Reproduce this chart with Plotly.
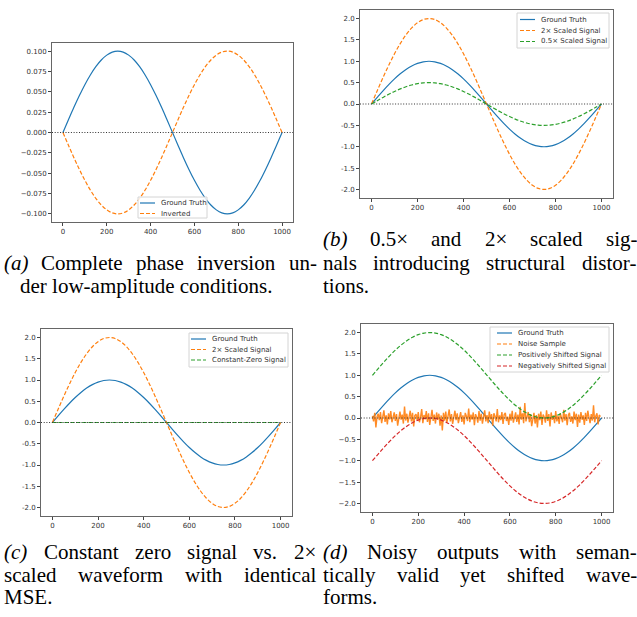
import re

import plotly.graph_objects as go

# ---- data ----
# x positions of the signal samples and the unit ground-truth waveform
signal_x = list(range(0, 1001, 25))
ground_truth = [
    0.000, 0.156, 0.309, 0.454, 0.588, 0.707, 0.809, 0.891, 0.951, 0.988,
    1.000, 0.988, 0.951, 0.891, 0.809, 0.707, 0.588, 0.454, 0.309, 0.156,
    0.000, -0.156, -0.309, -0.454, -0.588, -0.707, -0.809, -0.891, -0.951, -0.988,
    -1.000, -0.988, -0.951, -0.891, -0.809, -0.707, -0.588, -0.454, -0.309, -0.156,
    0.000,
]
amp_a = 0.1            # panel (a) low-amplitude ground truth
invert_a = -1.0        # panel (a) inverted copy
scales_b = [2.0, 0.5]  # panel (b)
scales_c = [2.0, 0.0]  # panel (c) 2x and constant zero
shifts_d = [1.0, -1.0]  # panel (d) positive / negative shift
zero_level = 0.0

noise_x = list(range(0, 1000, 5))
noise = [
    0.05, -0.08, 0.12, -0.22, 0.03, 0.10, -0.05, 0.14, -0.12, 0.02, 0.18, -0.09, 0.06, -0.15, 0.11, -0.03, 0.16, -0.10, 0.04, 0.13,
    -0.07, 0.09, -0.18, 0.05, 0.15, -0.04, 0.08, -0.13, 0.27, -0.06, 0.10, -0.11, 0.03, 0.17, -0.08, 0.12, -0.20, 0.06, 0.09, -0.05,
    0.14, -0.10, 0.02, 0.21, -0.12, 0.07, -0.03, 0.16, -0.09, 0.11, -0.16, 0.05, 0.19, -0.07, 0.08, -0.13, 0.13, -0.04, 0.10, -0.18,
    0.06, -0.29, 0.12, -0.06, 0.15, -0.11, 0.04, 0.20, -0.08, 0.09, -0.14, 0.07, 0.17, -0.05, 0.11, -0.12, 0.03, 0.14, -0.09, 0.06,
    -0.15, 0.12, 0.04, -0.07, 0.22, -0.10, 0.08, -0.04, 0.13, -0.17, 0.09, 0.02, -0.11, 0.16, -0.06, 0.10, -0.13, 0.05, 0.18, -0.08,
    0.07, -0.12, 0.15, -0.03, 0.09, -0.18, 0.11, 0.04, -0.08, 0.21, -0.10, 0.06, -0.05, 0.14, -0.14, 0.08, 0.12, -0.07, 0.03, -0.16,
    0.10, -0.06, 0.17, -0.11, 0.05, 0.13, -0.09, 0.08, -0.15, 0.26, -0.04, 0.11, -0.12, 0.35, -0.08, 0.06, 0.14, -0.10, 0.09, -0.19,
    0.04, 0.12, -0.13, 0.07, -0.22, 0.10, -0.05, 0.15, -0.16, 0.08, 0.02, -0.11, 0.18, -0.07, 0.09, -0.20, 0.13, -0.04, 0.06, -0.12,
    0.16, -0.08, 0.05, -0.14, 0.11, 0.03, -0.10, 0.19, -0.06, 0.09, -0.17, 0.07, 0.12, -0.09, 0.04, -0.13, 0.15, -0.05, 0.10, -0.21,
    0.08, -0.11, 0.14, -0.04, 0.06, -0.16, 0.12, -0.07, 0.17, 0.02, -0.12, 0.09, -0.06, 0.30, -0.10, 0.05, 0.11, -0.15, 0.07, 0.03,
]

x_ticks = [0, 200, 400, 600, 800, 1000]
y_ticks_a = [0.1, 0.075, 0.05, 0.025, 0.0, -0.025, -0.05, -0.075, -0.1]
y_labels_a = ["0.100", "0.075", "0.050", "0.025", "0.000", "\u22120.025", "\u22120.050", "\u22120.075", "\u22120.100"]
y_ticks_big = [2.0, 1.5, 1.0, 0.5, 0.0, -0.5, -1.0, -1.5, -2.0]
y_labels_hyphen = ["2.0", "1.5", "1.0", "0.5", "0.0", "-0.5", "-1.0", "-1.5", "-2.0"]
y_labels_minus = ["2.0", "1.5", "1.0", "0.5", "0.0", "\u22120.5", "\u22121.0", "\u22121.5", "\u22122.0"]

legend_a = ["Ground Truth", "Inverted"]
legend_b = ["Ground Truth", "2\u00d7 Scaled Signal", "0.5\u00d7 Scaled Signal"]
legend_c = ["Ground Truth", "2\u00d7 Scaled Signal", "Constant-Zero Signal"]
legend_d = ["Ground Truth", "Noise Sample", "Positively Shifted Signal", "Negatively Shifted Signal"]

caption_a = ["<i>(a)</i> Complete phase inversion un-", "der low-amplitude conditions."]
caption_b = ["<i>(b)</i> 0.5\u00d7 and 2\u00d7 scaled sig-", "nals introducing structural distor-", "tions."]
caption_c = ["<i>(c)</i> Constant zero signal vs. 2\u00d7", "scaled waveform with identical", "MSE."]
caption_d = ["<i>(d)</i> Noisy outputs with seman-", "tically valid yet shifted wave-", "forms."]

BLUE, ORANGE, GREEN, RED = "#1f77b4", "#ff7f0e", "#2ca02c", "#d62728"

W, H = 637, 617


def px(x):
    return x / W


def py(y):
    return 1 - y / H


fig = go.Figure()

# panel boxes in pixels: (left, right, top, bottom)
panels = {
    "a": dict(ax="", box=(52, 293, 43, 222), yr=[-0.11, 0.11], yt=y_ticks_a, yl=y_labels_a),
    "b": dict(ax="2", box=(360, 613, 10, 198), yr=[-2.2, 2.2], yt=y_ticks_big, yl=y_labels_hyphen),
    "c": dict(ax="3", box=(41, 292, 329, 516), yr=[-2.2, 2.2], yt=y_ticks_big, yl=y_labels_hyphen),
    "d": dict(ax="4", box=(361, 613, 324, 512), yr=[-2.2, 2.2], yt=y_ticks_big, yl=y_labels_minus),
}

tick_font = dict(family="DejaVu Sans", size=7, color="#333333")
for key, p in panels.items():
    l, r, t, b = p["box"]
    xa = dict(
        domain=[px(l), px(r)], range=[-50, 1050], anchor="y" + p["ax"],
        tickvals=x_ticks, ticks="outside", ticklen=3, tickwidth=0.8, tickcolor="#444",
        showline=True, linecolor="#666", linewidth=1, mirror=True,
        showgrid=False, zeroline=False, tickfont=tick_font,
    )
    ya = dict(
        domain=[py(b), py(t)], range=p["yr"], anchor="x" + p["ax"],
        tickvals=p["yt"], ticktext=p["yl"], ticks="outside", ticklen=3, tickwidth=0.8,
        tickcolor="#444", showline=True, linecolor="#666", linewidth=1, mirror=True,
        showgrid=False, zeroline=False, tickfont=tick_font,
    )
    fig.update_layout({"xaxis" + p["ax"]: xa, "yaxis" + p["ax"]: ya})
    # dotted zero reference across the whole axes
    fig.add_shape(
        type="line", xref="x%s domain" % p["ax"], yref="y" + p["ax"],
        x0=0, x1=1, y0=zero_level, y1=zero_level,
        line=dict(color="#333333", width=1.1, dash="1px,1.7px"), layer="above",
    )

DASH = "4px,2px"


def add_line(ax, y, color, dash=None, opacity=1.0, shape="spline", x=signal_x, width=1.2):
    fig.add_trace(
        go.Scatter(
            x=x, y=y, mode="lines", xaxis="x" + ax, yaxis="y" + ax,
            line=dict(color=color, width=width, dash=dash, shape=shape),
            opacity=opacity, showlegend=False, hoverinfo="skip",
        )
    )


# (a)
add_line("", [v * amp_a for v in ground_truth], BLUE)
add_line("", [v * amp_a * invert_a for v in ground_truth], ORANGE, DASH)
# (b)
add_line("2", ground_truth, BLUE)
for s, c in zip(scales_b, [ORANGE, GREEN]):
    add_line("2", [v * s for v in ground_truth], c, DASH)
# (c)
add_line("3", ground_truth, BLUE)
for s, c in zip(scales_c, [ORANGE, GREEN]):
    add_line("3", [v * s for v in ground_truth], c, DASH)
# (d)
add_line("4", ground_truth, BLUE)
add_line("4", noise, ORANGE, None, 0.9, "linear", noise_x, 1.4)
for s, c in zip(shifts_d, [GREEN, RED]):
    add_line("4", [v + s for v in ground_truth], c, DASH)


# hand-drawn matplotlib style legends (box px, first row y, row step)
def add_legend(labels, colors, dashes, box, y0, step, line_x):
    bl, br, bt, bb = box
    fig.add_shape(
        type="rect", xref="paper", yref="paper",
        x0=px(bl), x1=px(br), y0=py(bb), y1=py(bt),
        line=dict(color="#d4d4d4", width=1), fillcolor="rgba(255,255,255,0.85)", layer="above",
    )
    for i, (lab, col, dsh) in enumerate(zip(labels, colors, dashes)):
        yy = y0 + i * step
        fig.add_shape(
            type="line", xref="paper", yref="paper",
            x0=px(line_x), x1=px(line_x + 15), y0=py(yy), y1=py(yy),
            line=dict(color=col, width=1.2, dash=dsh), layer="above",
        )
        fig.add_annotation(
            x=px(line_x + 19), y=py(yy), xref="paper", yref="paper", text=lab,
            showarrow=False, xanchor="left", yanchor="middle",
            font=dict(family="DejaVu Sans", size=7, color="#333333"),
        )


add_legend(legend_a, [BLUE, ORANGE], [None, DASH], (138, 207, 197, 218), 203, 10.5, 140)
add_legend(legend_b, [BLUE, ORANGE, GREEN], [None, DASH, DASH], (517, 609, 13, 48), 19.5, 11, 520)
add_legend(legend_c, [BLUE, ORANGE, GREEN], [None, DASH, DASH], (189, 288, 333, 367), 339, 10.5, 191)
add_legend(legend_d, [BLUE, ORANGE, GREEN, RED], [None, DASH, DASH, DASH], (490, 609, 327, 372), 333, 11, 497)

# ---- captions, justified like the LaTeX source ----
TIMES = {
    " ": 250, "(": 333, ")": 333, ".": 250, "-": 333, ",": 250, "\u00d7": 564,
    "a": 444, "b": 500, "c": 444, "d": 500, "e": 444, "f": 333, "g": 500, "h": 500,
    "i": 278, "j": 278, "k": 500, "l": 278, "m": 778, "n": 500, "o": 500, "p": 500,
    "q": 500, "r": 333, "s": 389, "t": 278, "u": 500, "v": 500, "w": 722, "x": 500,
    "y": 500, "z": 444, "C": 667, "M": 889, "S": 556, "E": 611, "N": 722,
}
CAP_SIZE = 21


def text_w(s):
    s = re.sub("<[^>]+>", "", s)
    return sum(TIMES.get(ch, 500) for ch in s) * CAP_SIZE / 1000.0


def cap_text(x, y, s, anchor="left"):
    fig.add_annotation(
        x=px(x), y=py(y), xref="paper", yref="paper", text=s, showarrow=False,
        xanchor=anchor, yanchor="middle", borderpad=0,
        font=dict(family="Liberation Serif", size=CAP_SIZE, color="black"),
    )


def add_caption(lines, x0, x1, y0, step, last_x=None):
    for i, line in enumerate(lines):
        y = y0 + i * step
        if i < len(lines) - 1:
            words = line.split(" ")
            widths = [text_w(w) for w in words]
            gap = (x1 - x0 - sum(widths)) / (len(words) - 1)
            x = x0
            for w, wd in zip(words, widths):
                cap_text(x, y, w)
                x += wd + gap
        else:
            cap_text(x0 if last_x is None else last_x, y, line)


add_caption(caption_a, 3, 316, 263, 22.5, last_x=19)
add_caption(caption_b, 322, 636, 239, 23.5)
add_caption(caption_c, 3, 315, 552, 22.5)
add_caption(caption_d, 322, 636, 552, 22.5)

fig.update_layout(
    width=W, height=H, margin=dict(l=0, r=0, t=0, b=0),
    paper_bgcolor="white", plot_bgcolor="white", showlegend=False,
)

# drop the browser's default body margin so the figure sits at the page corner
fig.write_html(
    "out.html",
    config={"displayModeBar": False},
    post_script="document.body.style.margin='0';document.body.style.overflow='hidden';",
)
